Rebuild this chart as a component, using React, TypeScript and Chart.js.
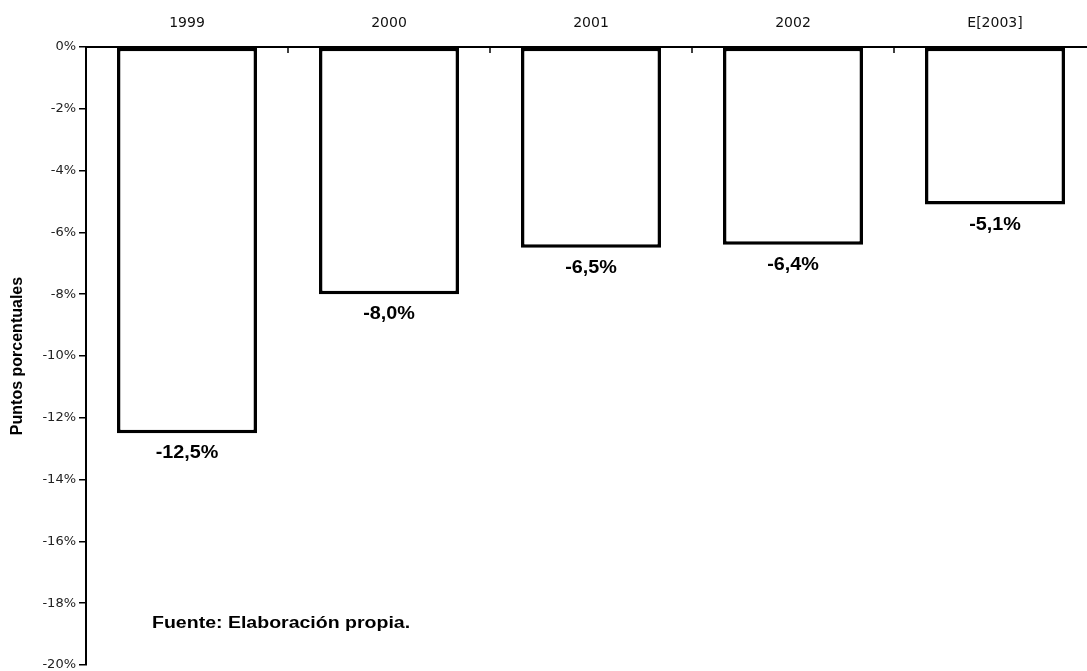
import React, { useEffect, useRef } from "react";
import { Chart, registerables } from "chart.js";

Chart.register(...registerables);

const categories: string[] = ["1999", "2000", "2001", "2002", "E[2003]"];
const values: number[] = [-12.5, -8.0, -6.5, -6.4, -5.1];
const yMin = -20;
const yMax = 0;
const yStep = 2;
const yTitle = "Puntos porcentuales";
const sourceNote = "Fuente: Elaboración propia.";

const fmtPct = (v: number) => v.toFixed(1).replace(".", ",") + "%";

const boldFont = '"Liberation Sans", Arial, sans-serif';
const tickFont = '"DejaVu Sans", Verdana, sans-serif';

const extrasPlugin = {
  id: "extras",
  afterDraw(chart: any) {
    const ctx = chart.ctx;
    const xs = chart.scales.x;
    const ys = chart.scales.y;
    const area = chart.chartArea;
    ctx.save();
    // inward tick marks on top axis between categories
    ctx.strokeStyle = "#000";
    ctx.lineWidth = 1.5;
    for (let i = 0; i < categories.length - 1; i++) {
      const x = (xs.getPixelForValue(i) + xs.getPixelForValue(i + 1)) / 2;
      ctx.beginPath();
      ctx.moveTo(x, area.top);
      ctx.lineTo(x, area.top + 6);
      ctx.stroke();
    }
    // value labels below bars
    const meta = chart.getDatasetMeta(0);
    ctx.fillStyle = "#000";
    ctx.font = "bold 18px " + boldFont;
    ctx.textAlign = "center";
    ctx.textBaseline = "alphabetic";
    meta.data.forEach((el: any, i: number) => {
      const y = ys.getPixelForValue(values[i]) + 25;
      ctx.save();
      ctx.translate(el.x, y);
      ctx.scale(1.1, 1);
      ctx.fillText(fmtPct(values[i]), 0, 0);
      ctx.restore();
    });
    // source note
    ctx.font = "bold 16px " + boldFont;
    ctx.textAlign = "left";
    ctx.save();
    ctx.translate(area.left + 66, area.bottom - 37);
    ctx.scale(1.22, 1);
    ctx.fillText(sourceNote, 0, 0);
    ctx.restore();
    ctx.restore();
  },
};

export default function App() {
  const ref = useRef<HTMLCanvasElement | null>(null);
  useEffect(() => {
    if (!ref.current) return;
    const chart = new Chart(ref.current, {
      type: "bar",
      data: {
        labels: categories,
        datasets: [
          {
            data: values,
            backgroundColor: "#ffffff",
            borderColor: "#000000",
            borderWidth: 3.5,
            borderSkipped: false,
            barPercentage: 0.693,
            categoryPercentage: 1,
          },
        ],
      },
      options: {
        responsive: false,
        animation: false,
        layout: { padding: { left: 0, right: 4, top: 0, bottom: 6 } },
        plugins: {
          legend: { display: false },
          tooltip: { enabled: false },
        },
        scales: {
          x: {
            position: "top",
            grid: { display: false, drawTicks: false },
            border: { display: true, color: "#000", width: 2 },
            ticks: {
              color: "#111",
              padding: 15,
              font: { family: tickFont, size: 14 },
              maxRotation: 0,
            },
            afterFit(scale: any) {
              scale.height = 47;
              scale.paddingLeft = 0;
              scale.paddingRight = 0;
            },
          },
          y: {
            min: yMin,
            max: yMax,
            grid: {
              drawOnChartArea: false,
              drawTicks: true,
              tickLength: 7,
              color: "#000",
              lineWidth: 1.5,
            },
            border: { display: true, color: "#000", width: 2 },
            ticks: {
              stepSize: yStep,
              color: "#222",
              padding: 3,
              font: { family: tickFont, size: 13 },
              callback: (v: any) => `${v}%`,
            },
            title: {
              display: true,
              text: yTitle,
              color: "#000",
              font: { family: boldFont, size: 16, weight: "bold" },
              padding: { top: 8, bottom: 0 },
            },
            afterFit(scale: any) {
              scale.width = 86;
              scale.paddingTop = 0;
              scale.paddingBottom = 0;
            },
          },
        },
      },
      plugins: [extrasPlugin],
    });
    return () => chart.destroy();
  }, []);
  return (
    <div
      style={{
        position: "absolute",
        left: 0,
        top: 0,
        width: 1087,
        height: 671,
        overflow: "hidden",
        background: "#fff",
      }}
    >
      <canvas ref={ref} width={1100} height={671} style={{ display: "block" }} />
    </div>
  );
}
